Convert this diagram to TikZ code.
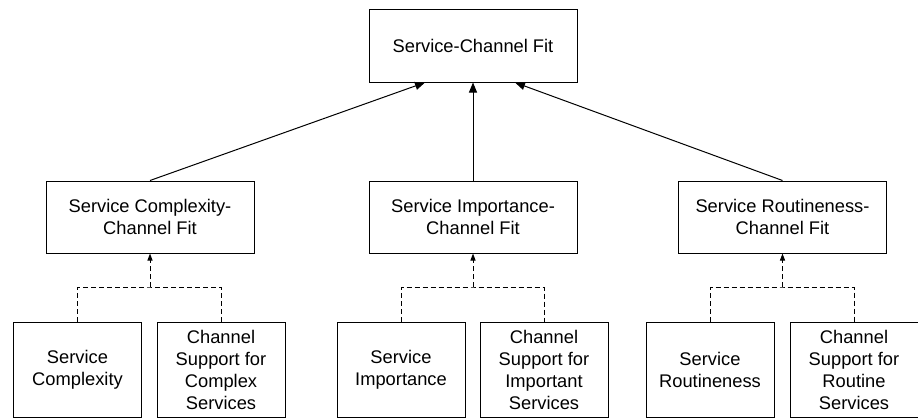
\documentclass[tikz,border=0pt]{standalone}
\usepackage{fontspec}
\setmainfont{Liberation Sans}
\usetikzlibrary{arrows.meta}

\tikzset{
    fitbox/.style={draw, line width=1pt, align=center, inner sep=0pt,
        minimum width=208pt, minimum height=73pt,
        font=\fontsize{18.3}{22}\selectfont},
    leafbox/.style={fitbox, minimum width=128pt, minimum height=95pt},
    link/.style={line width=1pt, -{Triangle[length=10pt,width=8pt]}},
    dlink/.style={line width=1pt, dash pattern=on 5pt off 3pt},
    darrow/.style={dlink, -{Triangle[length=7pt,width=5pt]}}
}

\begin{document}
\begin{tikzpicture}[x=1pt, y=1pt]
    \useasboundingbox (0,0) rectangle (918,-418);

    % Top
    \node[fitbox] (fit) at (473,-45.5) {Service-Channel Fit};

    % Second level
    \node[fitbox, minimum height=72pt] (cfit) at (150,-217) {Service Complexity-\\Channel Fit};
    \node[fitbox, minimum height=72pt] (ifit) at (473,-217) {Service Importance-\\Channel Fit};
    \node[fitbox, minimum height=72pt] (rfit) at (782.5,-217) {Service Routineness-\\Channel Fit};

    % Bottom level
    \node[leafbox] (cserv) at (77.5,-369.5) {Service\\Complexity};
    \node[leafbox] (csupp) at (221,-369.5) {Channel\\Support for\\Complex\\Services};
    \node[leafbox] (iserv) at (401,-369.5) {Service\\Importance};
    \node[leafbox] (isupp) at (544,-369.5) {Channel\\Support for\\Important\\Services};
    \node[leafbox] (rserv) at (710,-369.5) {Service\\Routineness};
    \node[leafbox] (rsupp) at (854,-369.5) {Channel\\Support for\\Routine\\Services};

    % Joints of the dashed lines
    \coordinate (cj) at (150,-287);
    \coordinate (ij) at (473,-287);
    \coordinate (rj) at (782.5,-287);

    % Solid arrows
    \draw[link] (cfit.north) -- ([xshift=-48pt]fit.south);
    \draw[link] (ifit.north) -- (fit.south);
    \draw[link] (rfit.north) -- ([xshift=42pt]fit.south);

    % Dashed arrows
    \draw[dlink] (cserv.north) |- (cj) -| (csupp.north);
    \draw[darrow] (cj) -- (cfit.south);
    \draw[dlink] (iserv.north) |- (ij) -| (isupp.north);
    \draw[darrow] (ij) -- (ifit.south);
    \draw[dlink] (rserv.north) |- (rj) -| (rsupp.north);
    \draw[darrow] (rj) -- (rfit.south);

\end{tikzpicture}
\end{document}
